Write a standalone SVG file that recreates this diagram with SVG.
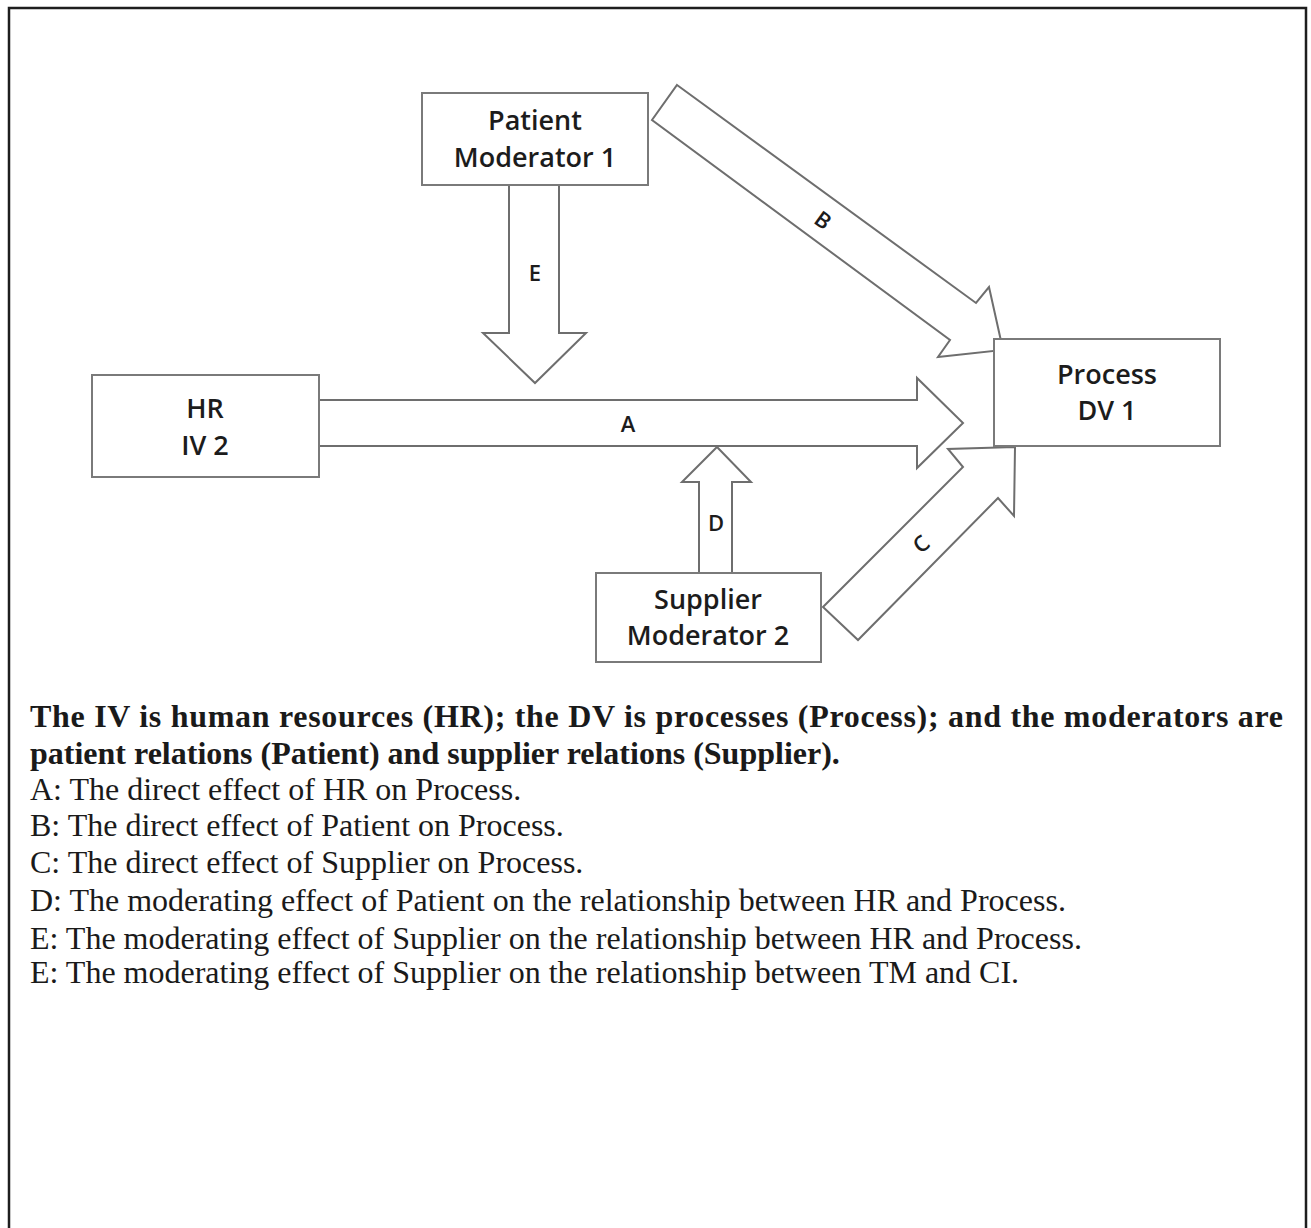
<svg xmlns="http://www.w3.org/2000/svg" width="1311" height="1228" viewBox="0 0 1311 1228">
  <style>
    .frame { fill: none; stroke: #1e1e1e; stroke-width: 2.5; }
    .box { fill: #ffffff; stroke: #7a7a7a; stroke-width: 2; }
    .arrow { fill: #ffffff; stroke: #6e6e6e; stroke-width: 2; stroke-linejoin: miter; }
    .nodetxt { font-family: "Open Sans", "Noto Sans", sans-serif; font-weight: 600; font-size: 27px; fill: #1c1c1c; text-anchor: middle; }
    .lbl { font-family: "Open Sans", "Noto Sans", sans-serif; font-weight: 600; font-size: 22px; fill: #1c1c1c; text-anchor: middle; }
    .cap { font-family: "Liberation Serif", "Times New Roman", serif; font-size: 32px; fill: #1a1a1a; }
    .capb { font-weight: bold; }
  </style>

  <rect width="1311" height="1228" fill="#ffffff"/>
  <!-- outer frame, open at the bottom -->
  <path class="frame" d="M9,1230 V8 H1306 V1230"/>

  <!-- block arrows -->
  <g id="connectors">
    <!-- A: HR to Process -->
    <polygon class="arrow" points="318,400 917,400 917,378 963,423 917,468 917,446 318,446"/>
    <text class="lbl" x="628" y="432">A</text>
    <!-- E: Patient down onto A -->
    <polygon class="arrow" points="509,185 559,185 559,333 586,333 535,383 483,333 509,333"/>
    <text class="lbl" x="535" y="281">E</text>
    <!-- D: Supplier up onto A -->
    <polygon class="arrow" points="699,573 699,482 682,482 717,447 751,482 732,482 732,573"/>
    <text class="lbl" x="716" y="531">D</text>
    <!-- B: Patient to Process -->
    <polygon class="arrow" points="677,85 976,303 989,287 1003,350 938,357 950,340 652,120"/>
    <text class="lbl" transform="translate(823,220) rotate(36)" x="0" y="8">B</text>
    <!-- C: Supplier to Process -->
    <polygon class="arrow" points="823,607 963,467 948,449 1015,447 1014,516 998,498 858,640"/>
    <text class="lbl" transform="translate(921,544) rotate(-40)" x="0" y="8">C</text>
  </g>

  <!-- nodes -->
  <g id="node-patient">
    <rect class="box" x="422" y="93" width="226" height="92"/>
    <text class="nodetxt" x="535" y="130">Patient</text>
    <text class="nodetxt" x="535" y="167">Moderator 1</text>
  </g>
  <g id="node-hr">
    <rect class="box" x="92" y="375" width="227" height="102"/>
    <text class="nodetxt" x="205" y="418">HR</text>
    <text class="nodetxt" x="205" y="455">IV 2</text>
  </g>
  <g id="node-process">
    <rect class="box" x="994" y="339" width="226" height="107"/>
    <text class="nodetxt" x="1107" y="384">Process</text>
    <text class="nodetxt" x="1107" y="420">DV 1</text>
  </g>
  <g id="node-supplier">
    <rect class="box" x="596" y="573" width="225" height="89"/>
    <text class="nodetxt" x="708" y="609">Supplier</text>
    <text class="nodetxt" x="708" y="645">Moderator 2</text>
  </g>

  <!-- legend -->
  <g id="legend">
    <text class="cap capb" x="30" y="727" textLength="1253" lengthAdjust="spacing">The IV is human resources (HR); the DV is processes (Process); and the moderators are</text>
    <text class="cap capb" x="30" y="764">patient relations (Patient) and supplier relations (Supplier).</text>
    <text class="cap" x="30" y="800">A: The direct effect of HR on Process.</text>
    <text class="cap" x="30" y="836">B: The direct effect of Patient on Process.</text>
    <text class="cap" x="30" y="873">C: The direct effect of Supplier on Process.</text>
    <text class="cap" x="30" y="911">D: The moderating effect of Patient on the relationship between HR and Process.</text>
    <text class="cap" x="30" y="949">E: The moderating effect of Supplier on the relationship between HR and Process.</text>
    <text class="cap" x="30" y="983">E: The moderating effect of Supplier on the relationship between TM and CI.</text>
  </g>
</svg>
